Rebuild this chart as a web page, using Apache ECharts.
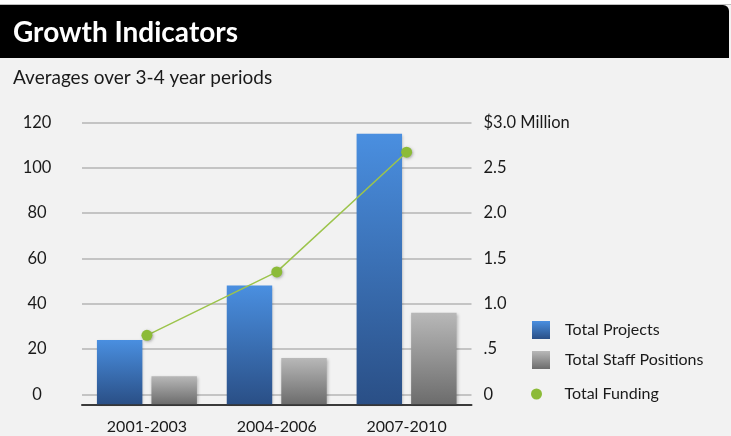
<!DOCTYPE html>
<html>
<head>
<meta charset="utf-8">
<script src="https://cdn.jsdelivr.net/npm/echarts@6/dist/echarts.min.js"></script>
<style>
html,body{margin:0;padding:0;background:#f2f2f2;}
#c{width:731px;height:436px;}
</style>
</head>
<body>
<div id="c"></div>
<script>
const categories = ['2001-2003', '2004-2006', '2007-2010'];
const totalProjects = [24, 48, 115];
const totalStaff = [8, 16, 36];
const totalFunding = [0.65, 1.35, 2.67];
const leftTicks = [0, 20, 40, 60, 80, 100, 120];
const rightTickLabels = {0: '0', 0.5: '.5', 1: '1.0', 1.5: '1.5', 2: '2.0', 2.5: '2.5', 3: '$3.0 Million'};

const FONT = 'Lato, "Open Sans", sans-serif';

const blueGrad = new echarts.graphic.LinearGradient(0, 0, 0, 1, [
  {offset: 0, color: '#4a8fe0'}, {offset: 1, color: '#2a4f86'}
]);
const grayGrad = new echarts.graphic.LinearGradient(0, 0, 0, 1, [
  {offset: 0, color: '#b8b8b8'}, {offset: 1, color: '#6c6c6c'}
]);

function barRenderer(side, fill) {
  return function (params, api) {
    const cat = api.value(0);
    const v = api.value(1);
    const top = api.coord([cat, v]);
    const base = api.coord([cat, 0]);
    const band = api.size([1, 0])[0];
    const w = band * 0.35;
    const cx = top[0] + side * (w / 2 + band * 0.035);
    const bottom = base[1] + 10;
    return {
      type: 'rect',
      shape: {x: cx - w / 2, y: top[1], width: w, height: bottom - top[1]},
      style: {fill: fill, shadowBlur: 3, shadowOffsetX: 1, shadowOffsetY: 1, shadowColor: 'rgba(0,0,0,0.25)'}
    };
  };
}

const chart = echarts.init(document.getElementById('c'), null, {renderer: 'canvas'});
chart.setOption({
  backgroundColor: '#f2f2f2',
  animation: false,
  graphic: [
    {type: 'rect', left: 0, top: 0, shape: {width: 731, height: 4.5}, style: {fill: '#ffffff'}, z: 0},
    {type: 'rect', left: 0, top: 4, shape: {width: 731, height: 1}, style: {fill: '#bdbdbd'}, z: 0},
    {type: 'rect', left: 0, top: 5, shape: {width: 729, height: 53, r: [0, 6, 0, 0]}, style: {fill: '#000000'}, z: 1}
  ],
  title: [
    {text: 'Growth Indicators', left: 8, top: 14,
     textStyle: {color: '#ffffff', fontSize: 28, fontWeight: 'bold', fontFamily: FONT}, z: 5},
    {text: 'Averages over 3-4 year periods', left: 8, top: 63,
     textStyle: {color: '#1a1a1a', fontSize: 19, fontWeight: 'normal', fontFamily: FONT}}
  ],
  grid: {left: 82, right: 259.5, top: 122.3, bottom: 41.7},
  legend: [
    {data: [{name: 'Total Projects', icon: 'rect'}, {name: 'Total Staff Positions', icon: 'rect'}],
     orient: 'vertical', left: 527, top: 316, itemWidth: 18, itemHeight: 18, itemGap: 12,
     textStyle: {fontSize: 16, color: '#1a1a1a', fontFamily: FONT, padding: [0, 0, 0, 10]}},
    {data: [{name: 'Total Funding', icon: 'circle'}],
     orient: 'vertical', left: 526, top: 381, itemWidth: 18, itemHeight: 11,
     textStyle: {fontSize: 16, color: '#1a1a1a', fontFamily: FONT, padding: [0, 0, 0, 14]}}
  ],
  xAxis: {
    type: 'category', data: categories, offset: 10,
    axisLine: {show: true, onZero: false, lineStyle: {color: '#3a3a3a', width: 2}},
    axisTick: {show: false},
    axisLabel: {margin: 15, fontSize: 16, color: '#1a1a1a', fontFamily: FONT}
  },
  yAxis: [
    {type: 'value', min: 0, max: 120, interval: 20,
     axisLine: {show: false}, axisTick: {show: false},
     axisLabel: {align: 'center', margin: 45, fontSize: 16.5, color: '#1a1a1a', fontFamily: FONT,
       formatter: v => leftTicks.indexOf(v) >= 0 ? String(v) : ''},
     splitLine: {lineStyle: {color: '#b4b4b4', width: 1.5}}},
    {type: 'value', min: 0, max: 3, interval: 0.5, position: 'right',
     axisLine: {show: false}, axisTick: {show: false}, splitLine: {show: false},
     axisLabel: {margin: 12, fontSize: 16.5, color: '#1a1a1a', fontFamily: FONT,
       formatter: v => rightTickLabels[v] !== undefined ? rightTickLabels[v] : ''}}
  ],
  series: [
    {name: 'Total Projects', type: 'custom', renderItem: barRenderer(-1, blueGrad),
     itemStyle: {color: blueGrad}, encode: {x: 0, y: 1},
     data: totalProjects.map((v, i) => [i, v]), z: 3},
    {name: 'Total Staff Positions', type: 'custom', renderItem: barRenderer(1, grayGrad),
     itemStyle: {color: grayGrad}, encode: {x: 0, y: 1},
     data: totalStaff.map((v, i) => [i, v]), z: 3},
    {name: 'Total Funding', type: 'line', yAxisIndex: 1, data: totalFunding,
     symbol: 'circle', symbolSize: 11, z: 5,
     itemStyle: {color: '#8cbb38', shadowBlur: 3, shadowOffsetX: 1, shadowOffsetY: 1, shadowColor: 'rgba(0,0,0,0.3)'},
     lineStyle: {color: '#9cc44c', width: 1.5}}
  ]
});
</script>
</body>
</html>
